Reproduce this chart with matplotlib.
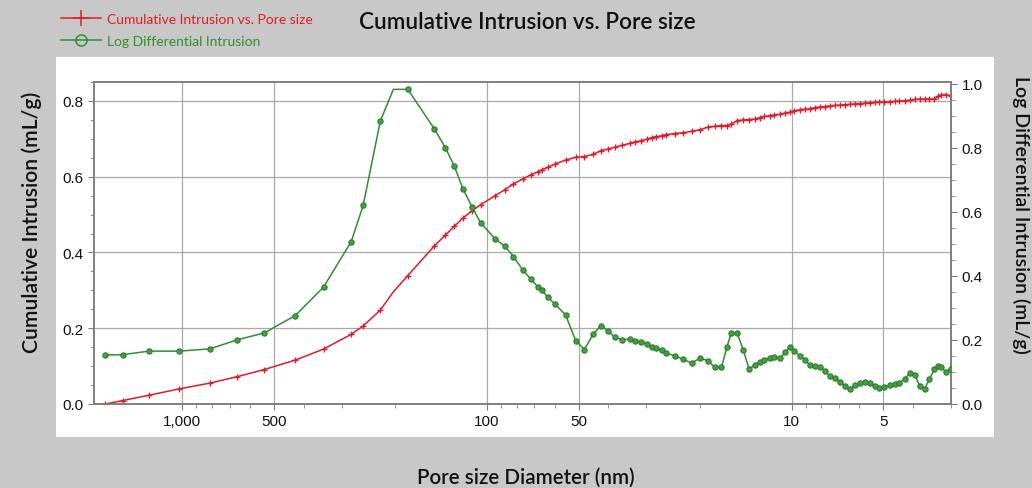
import numpy as np
import matplotlib
matplotlib.use('Agg')
from matplotlib import pyplot as plt
import matplotlib.ticker as ticker
from matplotlib.patches import Rectangle
from matplotlib.lines import Line2D

# pore diameter (nm), shared by both curves
pore_size = [1788, 1572, 1289, 1023, 814, 662, 538, 426, 344, 279, 255, 224, 203, 182,
             149, 137, 128, 120, 112, 105, 94.0, 87.3, 81.9, 76.4, 71.9, 68.0, 66.2, 63.1,
             60.0, 55.2, 51.2, 47.9, 44.9, 42.2, 40.0, 38.0, 36.0, 34.0, 32.6, 31.2, 29.9,
             28.8, 27.8, 26.7, 25.8, 24.2, 22.7, 21.3, 20.0, 18.8, 17.9, 17.0, 16.3, 15.8,
             15.1, 14.4, 13.8, 13.2, 12.7, 12.3, 11.8, 11.4, 10.9, 10.5, 10.15, 9.8, 9.4,
             9.06, 8.73, 8.41, 8.09, 7.79, 7.51, 7.23, 6.96, 6.70, 6.45, 6.21, 5.98, 5.76,
             5.55, 5.34, 5.15, 4.96, 4.77, 4.59, 4.43, 4.26, 4.10, 3.95, 3.80, 3.66, 3.53,
             3.40, 3.31, 3.23, 3.11, 3.01]

cumulative = [0.000, 0.009, 0.023, 0.040, 0.055, 0.072, 0.091, 0.116, 0.145, 0.184, 0.206,
              0.248, 0.296, 0.339, 0.417, 0.446, 0.469, 0.491, 0.510, 0.526, 0.550, 0.566,
              0.581, 0.594, 0.605, 0.613, 0.618, 0.625, 0.633, 0.644, 0.651, 0.653, 0.659,
              0.669, 0.673, 0.678, 0.683, 0.688, 0.692, 0.695, 0.699, 0.703, 0.706, 0.708,
              0.711, 0.714, 0.716, 0.720, 0.724, 0.731, 0.733, 0.735, 0.735, 0.739, 0.748,
              0.750, 0.751, 0.752, 0.756, 0.759, 0.761, 0.763, 0.765, 0.768, 0.770, 0.774,
              0.777, 0.778, 0.779, 0.782, 0.784, 0.785, 0.787, 0.788, 0.789, 0.790, 0.791,
              0.792, 0.793, 0.794, 0.795, 0.796, 0.797, 0.797, 0.798, 0.799, 0.800, 0.800,
              0.802, 0.804, 0.805, 0.805, 0.805, 0.805, 0.812, 0.816, 0.816, 0.814]

log_diff = [0.153, 0.154, 0.165, 0.165, 0.172, 0.200, 0.222, 0.276, 0.365, 0.507, 0.620,
            0.883, 0.982, 0.982, 0.859, 0.800, 0.742, 0.672, 0.615, 0.566, 0.515, 0.492,
            0.460, 0.419, 0.390, 0.365, 0.356, 0.333, 0.313, 0.278, 0.198, 0.170, 0.217,
            0.245, 0.227, 0.208, 0.201, 0.202, 0.198, 0.195, 0.188, 0.178, 0.174, 0.167,
            0.158, 0.151, 0.139, 0.128, 0.143, 0.135, 0.115, 0.115, 0.179, 0.221, 0.221,
            0.167, 0.109, 0.122, 0.132, 0.138, 0.144, 0.148, 0.143, 0.161, 0.177, 0.164,
            0.151, 0.138, 0.122, 0.118, 0.117, 0.104, 0.087, 0.080, 0.070, 0.057, 0.047,
            0.059, 0.066, 0.068, 0.065, 0.057, 0.049, 0.052, 0.059, 0.063, 0.066, 0.078,
            0.096, 0.092, 0.057, 0.047, 0.078, 0.109, 0.118, 0.115, 0.099, 0.109]

x_ticks = [1000, 500, 100, 50, 10, 5]
x_ticklabels = ["1,000", "500", "100", "50", "10", "5"]

red = "#dc1e2a"
green = "#2f8f2f"
grid_c = "#aaaaaa"
spine_c = "#7f7f7f"
tick_font = "Liberation Sans"
label_font = "Lato"
txt_c = "#111111"

fig = plt.figure(figsize=(10.32, 4.89), dpi=100)
fig.patch.set_facecolor("#c8c8c8")
panel = Rectangle((56 / 1032, 1 - 438 / 489), (994 - 56) / 1032, (438 - 58) / 489,
                  transform=fig.transFigure, facecolor="white", edgecolor="none", zorder=-5)
fig.patches.append(panel)

ax = fig.add_axes([94 / 1032, 1 - 405 / 489, (951 - 94) / 1032, (405 - 83) / 489])
ax2 = ax.twinx()

ax.set_xscale("log")
ax.set_xlim(1950, 3.0)
ax.set_ylim(0, 0.85)
ax2.set_ylim(0, 1.005)

# markers: skip the un-marked peak shoulder point
marks = [i for i in range(len(pore_size)) if i != 12]

ax.plot(pore_size, cumulative, color=red, lw=1.1, marker="+", ms=5, mew=1.0,
        markevery=marks, zorder=3)
ax2.plot(pore_size, log_diff, color=green, lw=1.1, marker="o", ms=3.8, mew=0.8,
         mfc="#45a045", mec="#2a7f2a", markevery=marks, zorder=3)

ax.xaxis.set_major_locator(ticker.FixedLocator(x_ticks))
ax.xaxis.set_major_formatter(ticker.FixedFormatter(x_ticklabels))
ax.xaxis.set_minor_locator(ticker.LogLocator(base=10, subs=np.arange(2, 10)))
ax.xaxis.set_minor_formatter(ticker.NullFormatter())

ax.yaxis.set_major_locator(ticker.MultipleLocator(0.2))
ax.yaxis.set_minor_locator(ticker.MultipleLocator(0.05))
ax.yaxis.set_major_formatter(ticker.FormatStrFormatter("%.1f"))
ax2.yaxis.set_major_locator(ticker.MultipleLocator(0.2))
ax2.yaxis.set_minor_locator(ticker.MultipleLocator(0.05))
ax2.yaxis.set_major_formatter(ticker.FormatStrFormatter("%.1f"))

ax.grid(True, which="major", color=grid_c, lw=0.9)
ax.set_axisbelow(True)

for a in (ax, ax2):
    for s in a.spines.values():
        s.set_color(spine_c)
        s.set_linewidth(1.2)
    a.tick_params(which="major", direction="out", length=4, color=spine_c,
                  labelsize=11, labelcolor=txt_c)
    a.tick_params(which="minor", direction="out", length=3, color=spine_c)
    for t in a.get_xticklabels() + a.get_yticklabels():
        t.set_fontfamily(tick_font)

fig.text(527 / 1032, 1 - 29.5 / 489, "Cumulative Intrusion vs. Pore size", ha="center",
         va="baseline", fontsize=16.2, fontfamily=label_font, fontweight="semibold", color=txt_c)
fig.text(32 / 1032, 1 - 222 / 489, "Cumulative Intrusion (mL/g)", ha="center", va="center",
         rotation=90, fontsize=15.2, fontfamily=label_font, fontweight="semibold", color=txt_c)
fig.text(1021 / 1032, 1 - 215 / 489, "Log Differential Intrusion (mL/g)", ha="center",
         va="center", rotation=270, fontsize=14.0, fontfamily=label_font, fontweight="semibold",
         color=txt_c)
fig.text(526 / 1032, 1 - 483.5 / 489, "Pore size Diameter (nm)", ha="center", va="baseline",
         fontsize=14.8, fontfamily=label_font, fontweight="semibold", color=txt_c)

# legend handles: open circle in the key, as in the original
h1 = Line2D([], [], color=red, lw=1.1, marker="+", ms=11, mew=1.1)
h2 = Line2D([], [], color=green, lw=1.1, marker="o", ms=8, mew=1.1, mfc="none")
fig.legend(handles=[h1, h2],
           labels=["Cumulative Intrusion vs. Pore size", "Log Differential Intrusion"],
           loc="upper left", bbox_to_anchor=(48 / 1032, 1 - 1 / 489), frameon=False,
           handlelength=2.9, handletextpad=0.45, labelspacing=0.78, numpoints=1,
           labelcolor=[red, green], prop={"family": label_font, "size": 10})

plt.savefig("out.png", dpi=100, facecolor=fig.get_facecolor())
